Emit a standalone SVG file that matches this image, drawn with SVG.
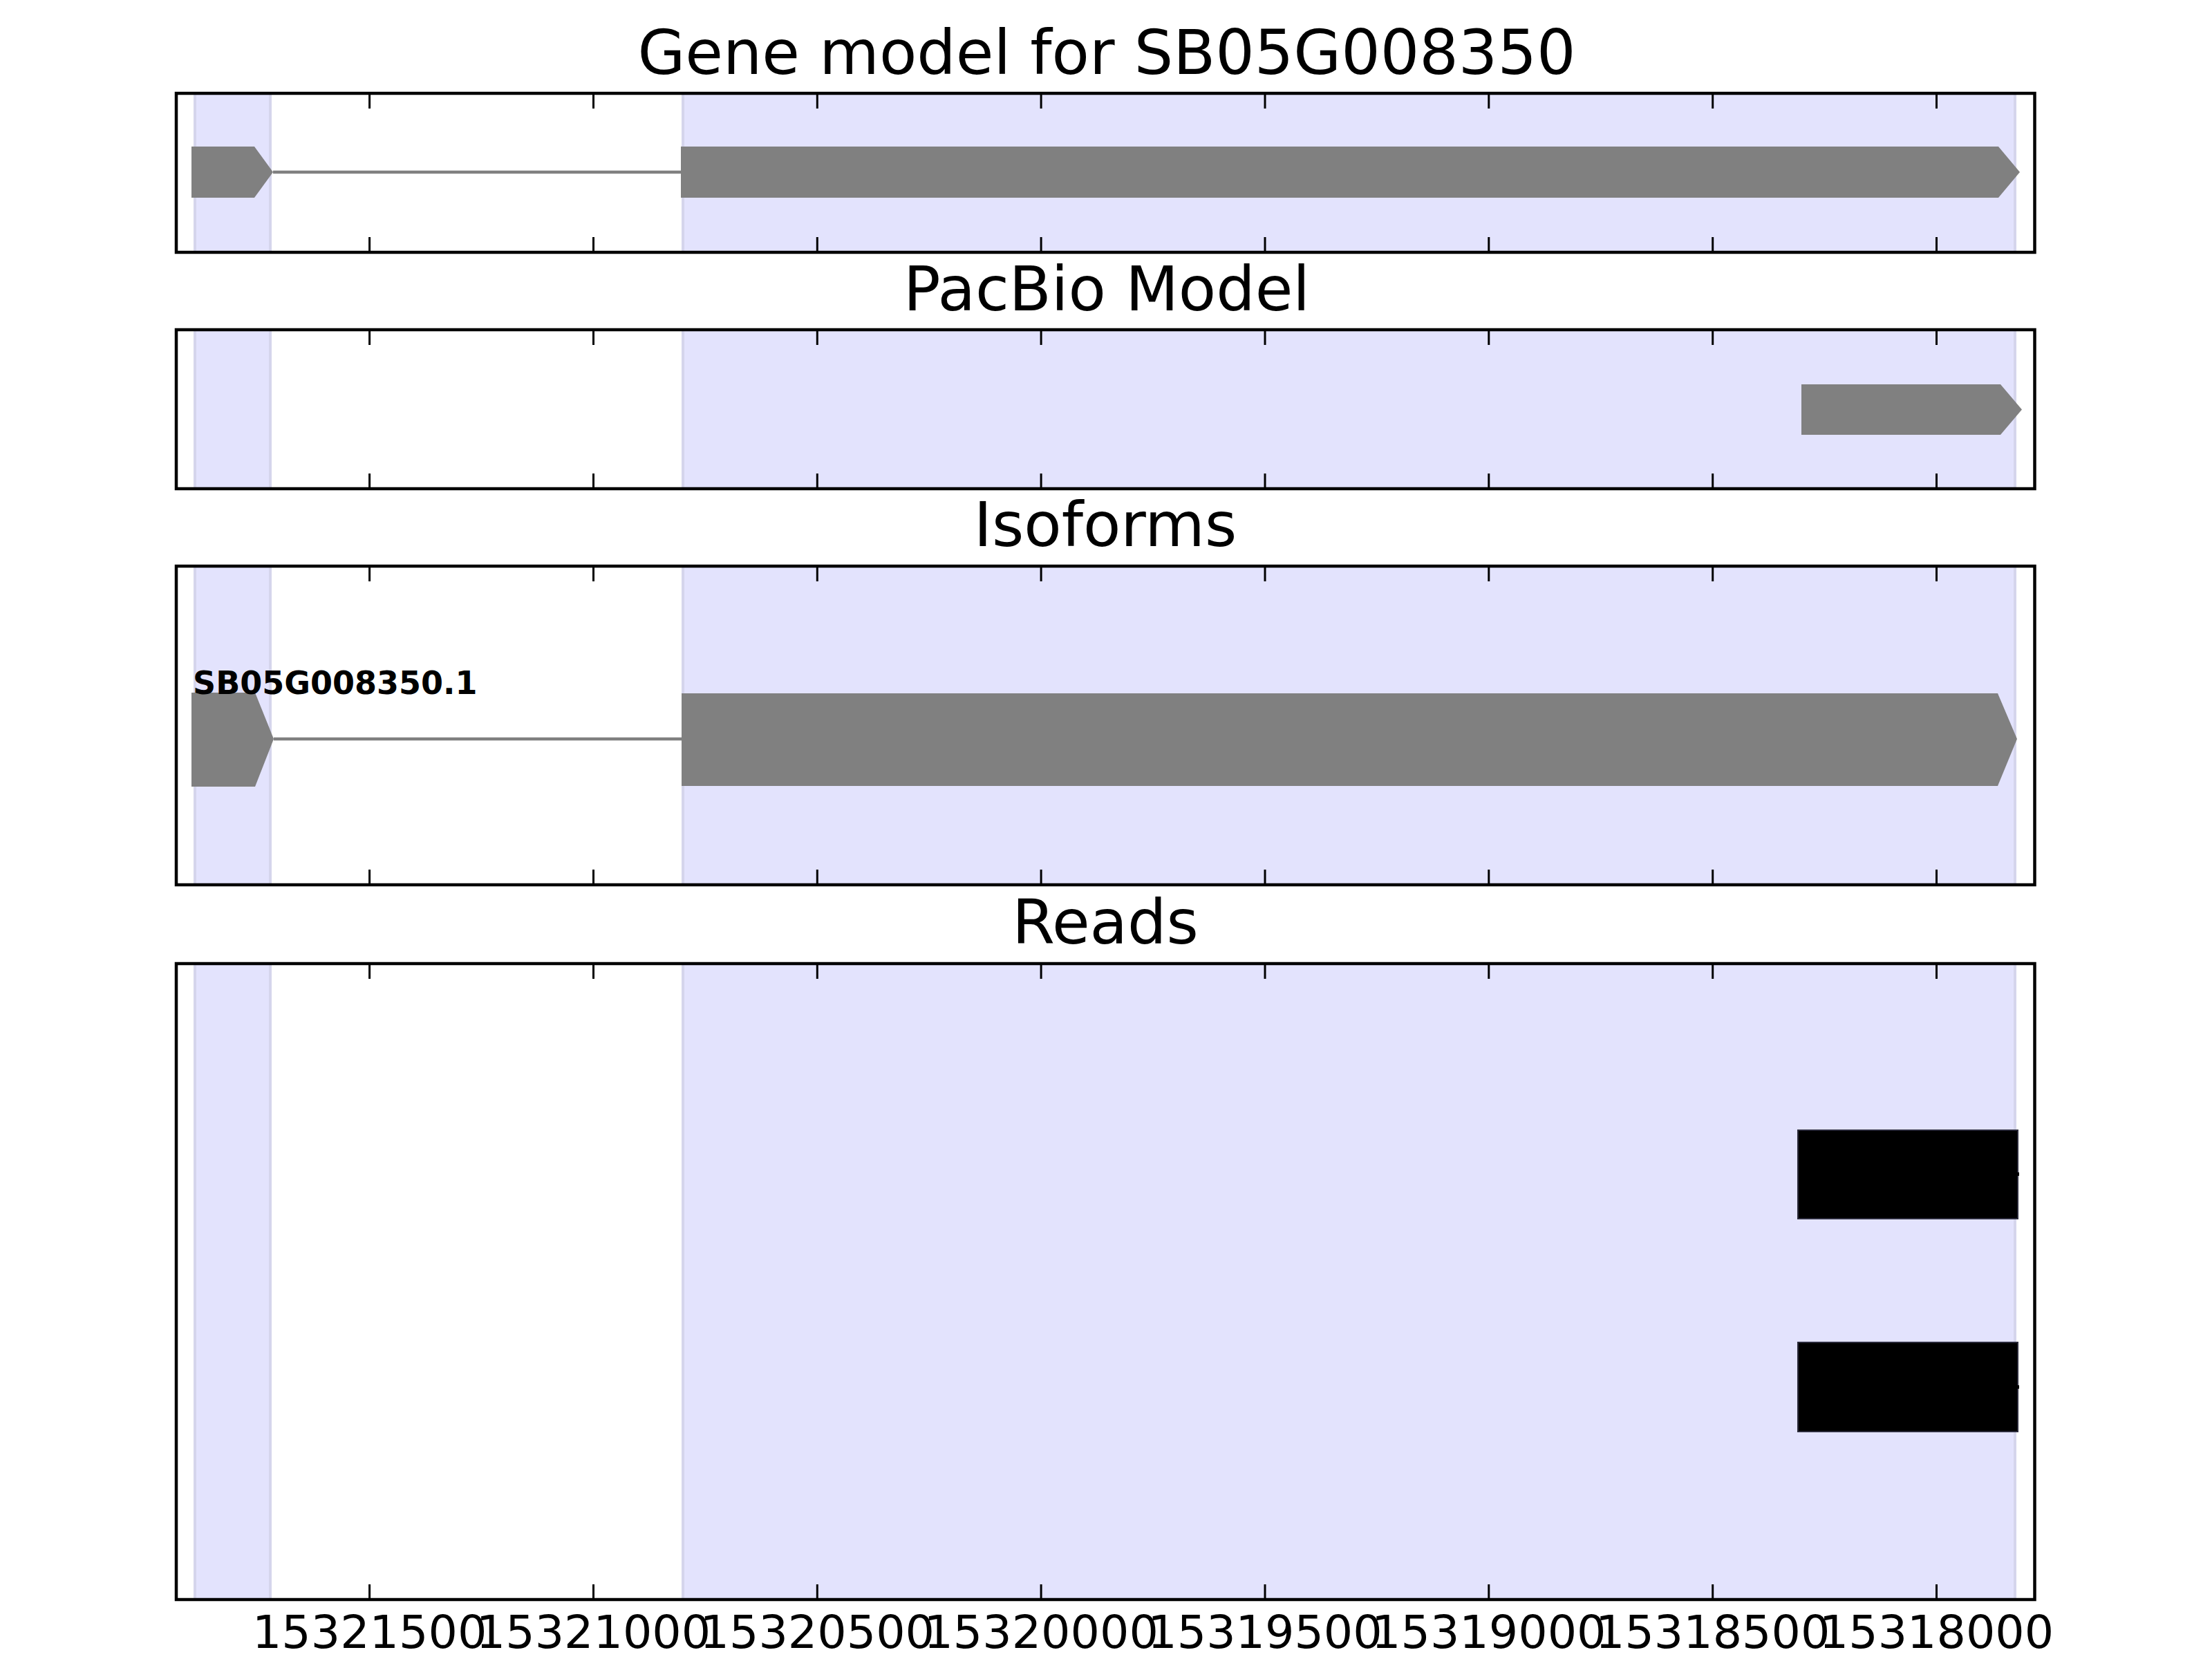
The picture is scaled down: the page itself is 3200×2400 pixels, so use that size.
<svg xmlns="http://www.w3.org/2000/svg" width="3200" height="2400" viewBox="0 0 3200 2400">
<style>
.frame{fill:none;stroke:#000;stroke-width:4.5}
.span{fill:#e3e3fd;stroke:#d5d5ec;stroke-width:4}
.gene{fill:#808080}
.intron{stroke:#808080;stroke-width:4.5;fill:none}
.read{fill:#000;stroke:#2a2a3a;stroke-width:2}
.tick{stroke:#000;stroke-width:3}
.title{font-family:"DejaVu Sans",sans-serif;font-size:88.9px;text-anchor:middle;fill:#000}
.tl{font-family:"DejaVu Sans",sans-serif;font-size:66.7px;text-anchor:middle;fill:#000}
.lab{font-family:"DejaVu Sans",sans-serif;font-size:46px;font-weight:bold;fill:#000}
</style>
<defs>
<g id="ticks">
<path class="tick" d="M534.6 0v22M858.5 0v22M1182.3 0v22M1506.1 0v22M1830 0v22M2153.8 0v22M2477.7 0v22M2801.5 0v22"/>
</g>
<g id="ticksb">
<path class="tick" d="M534.6 0v-22M858.5 0v-22M1182.3 0v-22M1506.1 0v-22M1830 0v-22M2153.8 0v-22M2477.7 0v-22M2801.5 0v-22"/>
</g>
</defs>
<rect width="3200" height="2400" fill="#fff"/>

<g id="panel-gene-model">
<rect class="span" x="282" y="135" width="109" height="230"/>
<rect class="span" x="988" y="135" width="1927" height="230"/>
<polygon class="gene" points="277,212 368,212 395,249 368,286 277,286"/>
<polygon class="gene" points="985,212 2891,212 2922,249 2891,286 985,286"/>
<use href="#ticks" y="135"/>
<use href="#ticksb" y="365"/>
<rect class="frame" x="255" y="135" width="2688.5" height="230"/>
<text class="title" x="1601" y="107">Gene model for SB05G008350</text>
</g>

<g id="panel-pacbio">
<rect class="span" x="282" y="477" width="109" height="230"/>
<rect class="span" x="988" y="477" width="1927" height="230"/>
<polygon class="gene" points="2606,556 2894,556 2925,592.5 2894,629 2606,629"/>
<use href="#ticks" y="477"/>
<use href="#ticksb" y="707"/>
<rect class="frame" x="255" y="477" width="2688.5" height="230"/>
<text class="title" x="1601" y="449">PacBio Model</text>
</g>

<g id="panel-isoforms">
<rect class="span" x="282" y="819" width="109" height="461"/>
<rect class="span" x="988" y="819" width="1927" height="461"/>
<polygon class="gene" points="277,1002 369,1002 396,1069 369,1138 277,1138"/>
<polygon class="gene" points="986,1003 2890,1003 2918,1069 2890,1137 986,1137"/>
<text class="lab" x="279" y="1004">SB05G008350.1</text>
<use href="#ticks" y="819"/>
<use href="#ticksb" y="1280"/>
<rect class="frame" x="255" y="819" width="2688.5" height="461"/>
<text class="title" x="1599" y="790">Isoforms</text>
</g>

<g id="panel-reads">
<rect class="span" x="282" y="1394" width="109" height="920"/>
<rect class="span" x="988" y="1394" width="1927" height="920"/>
<rect class="read" x="2601" y="1635" width="318" height="128"/>
<rect class="read" x="2601" y="1942" width="318" height="129"/>
<rect x="2918" y="1696" width="3" height="5" fill="#000"/>
<rect x="2918" y="2004" width="3" height="5" fill="#000"/>
<use href="#ticks" y="1394"/>
<use href="#ticksb" y="2314"/>
<rect class="frame" x="255" y="1394" width="2688.5" height="920"/>
<text class="title" x="1599" y="1365">Reads</text>
</g>

<g id="connectors">
<line class="intron" x1="395" y1="249" x2="986" y2="249"/>
<line class="intron" x1="396" y1="1069" x2="987" y2="1069"/>
</g>

<g id="axis-labels">
<text class="tl" x="534.6" y="2384">15321500</text>
<text class="tl" x="858.5" y="2384">15321000</text>
<text class="tl" x="1182.3" y="2384">15320500</text>
<text class="tl" x="1506.1" y="2384">15320000</text>
<text class="tl" x="1830" y="2384">15319500</text>
<text class="tl" x="2153.8" y="2384">15319000</text>
<text class="tl" x="2477.7" y="2384">15318500</text>
<text class="tl" x="2801.5" y="2384">15318000</text>
</g>
</svg>
